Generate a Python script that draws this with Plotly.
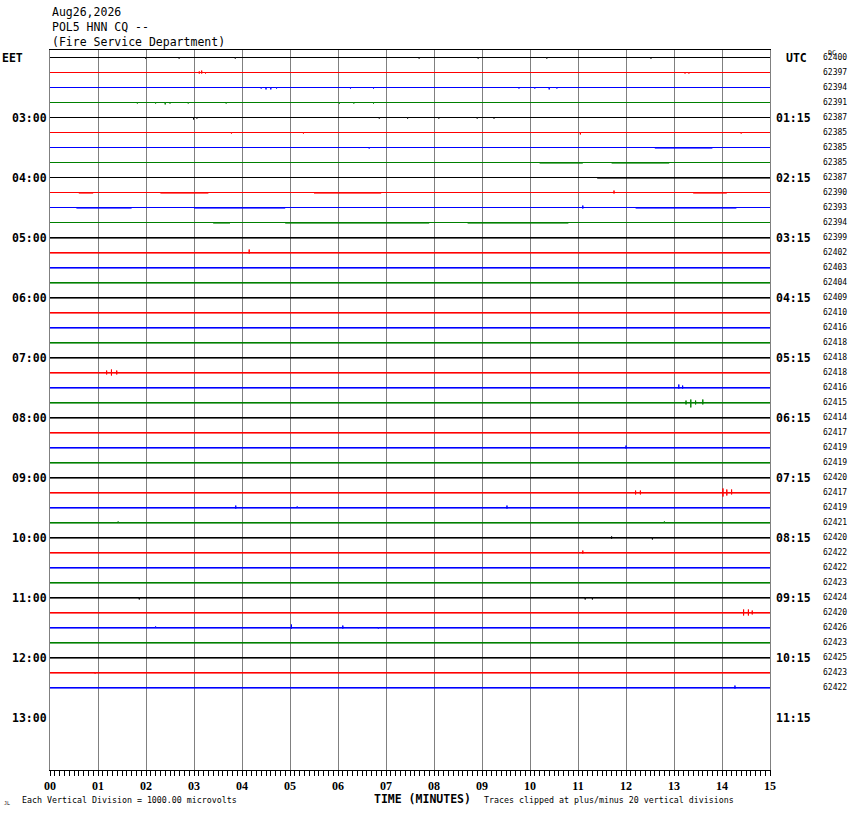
import plotly.graph_objects as go

# ---------------- data ----------------
header_lines = ["Aug26,2026", "POL5 HNN CQ --", "(Fire Service Department)"]
left_hours = ["03:00", "04:00", "05:00", "06:00", "07:00", "08:00", "09:00",
              "10:00", "11:00", "12:00", "13:00"]
right_hours = ["01:15", "02:15", "03:15", "04:15", "05:15", "06:15", "07:15",
               "08:15", "09:15", "10:15", "11:15"]
hour_rows = [4, 8, 12, 16, 20, 24, 28, 32, 36, 40, 44]
minute_labels = ["00", "01", "02", "03", "04", "05", "06", "07", "08", "09",
                 "10", "11", "12", "13", "14", "15"]
dc_values = [62400, 62397, 62394, 62391, 62387, 62385, 62385, 62385,
             62387, 62390, 62393, 62394, 62399, 62402, 62403, 62404,
             62409, 62410, 62416, 62418, 62418, 62418, 62416, 62415,
             62414, 62417, 62419, 62419, 62420, 62417, 62419, 62421,
             62420, 62422, 62422, 62423, 62424, 62420, 62426, 62423,
             62425, 62423, 62422]
trace_colors = ["#000000", "#ff0000", "#0000ff", "#008000"]
total_rows = 48
minutes_per_row = 15

# notable spikes: row, minute, upward amplitude (uV), downward amplitude (uV)
spike_rows = [0, 0, 0, 0, 0, 0, 0,
              1, 1, 1, 1, 1,
              2, 2, 2, 2, 2, 2, 2, 2, 2, 2,
              3, 3, 3, 3, 3, 3, 3, 3, 3,
              4, 4, 4, 4, 4, 4, 4,
              5, 5, 5, 5,
              6, 9, 10,
              13, 21, 21, 21, 22, 22, 23, 23, 23, 23,
              26, 29, 29, 29, 29, 29,
              30, 30, 30, 31, 31, 32, 32, 33,
              36, 36, 36, 37, 37, 37,
              38, 38, 38, 38, 41, 42]
spike_minutes = [1.99, 2.69, 3.86, 7.69, 8.92, 10.35, 12.52,
                 3.11, 3.16, 3.24, 13.23, 13.31,
                 4.40, 4.50, 4.60, 4.72, 6.26, 6.74, 9.77, 10.10, 10.40, 10.56,
                 1.82, 2.20, 2.40, 2.50, 2.88, 3.67, 6.03, 6.33, 6.74,
                 2.99, 3.06, 6.86, 7.45, 8.10, 8.90, 9.25,
                 3.78, 5.28, 11.05, 14.40,
                 6.65, 11.75, 11.10,
                 4.15, 1.18, 1.28, 1.39, 13.10, 13.18, 13.25, 13.35, 13.45, 13.60,
                 12.00, 12.20, 12.30, 14.02, 14.10, 14.20,
                 3.87, 5.15, 9.52, 1.42, 12.80, 12.55, 11.70, 11.10,
                 1.86, 11.15, 11.30, 14.45, 14.55, 14.63,
                 2.20, 5.03, 6.10, 6.84, 0.94, 14.27]
spike_up = [0, 0, 0, 0, 0, 0, 0,
            70, 130, 0, 0, 0,
            0, 0, 0, 0, 0, 0, 0, 0, 0, 0,
            0, 0, 0, 0, 0, 0, 0, 0, 0,
            0, 0, 0, 0, 0, 0, 0,
            0, 0, 0, 0,
            0, 130, 130,
            200, 130, 200, 130, 200, 130, 130, 200, 130, 200,
            130, 130, 130, 270, 200, 200,
            130, 70, 130, 70, 70, 0, 70, 130,
            0, 0, 0, 200, 200, 130,
            70, 200, 130, 0, 0, 130]
spike_down = [70, 70, 70, 70, 70, 70, 70,
              70, 70, 70, 70, 70,
              70, 130, 130, 70, 70, 70, 70, 70, 130, 70,
              70, 70, 130, 70, 70, 70, 70, 70, 70,
              130, 70, 70, 70, 70, 70, 70,
              70, 70, 130, 70,
              70, 70, 70,
              70, 130, 200, 130, 70, 70, 130, 330, 130, 130,
              70, 130, 130, 270, 200, 130,
              70, 0, 70, 0, 0, 130, 70, 70,
              130, 130, 130, 200, 200, 130,
              0, 70, 70, 70, 70, 70]

# fuzzy (noisy) stretches of trace: row, start minute, end minute
fuzz_rows = [6, 7, 7, 8, 9, 9, 9, 9, 10, 10, 10, 11, 11, 11] + list(range(12, 43))
fuzz_start = [12.6, 10.2, 11.7, 11.4, 0.6, 2.3, 5.5, 13.4, 0.55, 3.0, 12.2, 3.4, 4.9, 8.7] + [0.0] * 31
fuzz_end = [13.8, 11.1, 12.9, 15.0, 0.9, 3.3, 6.9, 14.1, 1.7, 4.9, 14.3, 3.75, 7.9, 10.8] + [15.0] * 31

UV_PER_ROW = 1000.0

fig = go.Figure()

n_rows = len(dc_values)
for r in range(n_rows):
    base = r + 0.5
    color = trace_colors[r % 4]
    idx = [i for i, rr in enumerate(spike_rows) if rr == r]
    idx.sort(key=lambda i: spike_minutes[i])
    xs = [0.0]
    ys = [base]
    for i in idx:
        m = spike_minutes[i]
        xs += [m, m, m, m]
        ys += [base, base - spike_up[i] / UV_PER_ROW, base + spike_down[i] / UV_PER_ROW, base]
    xs.append(float(minutes_per_row))
    ys.append(base)
    fig.add_trace(go.Scatter(x=xs, y=ys, mode="lines",
                             line=dict(color=color, width=1),
                             hoverinfo="skip", showlegend=False))
    # fuzz
    fx, fy = [], []
    for i, rr in enumerate(fuzz_rows):
        if rr == r:
            fx += [fuzz_start[i], fuzz_end[i], None]
            fy += [base + 1 / 15, base + 1 / 15, None]
    if fx:
        fig.add_trace(go.Scatter(x=fx, y=fy, mode="lines",
                                 line=dict(color=color, width=1),
                                 opacity=0.6, hoverinfo="skip", showlegend=False))

# invisible trace for right axis
fig.add_trace(go.Scatter(x=[0], y=[0], yaxis="y2", mode="markers",
                         marker=dict(opacity=0), hoverinfo="skip", showlegend=False))

mono = "DejaVu Sans Mono"
ann = []
hdr_y = [12, 27, 42]
for t, py in zip(header_lines, hdr_y):
    ann.append(dict(text=t, xref="paper", yref="paper", x=0, y=(770 - py) / 720,
                    xanchor="left", yanchor="middle", showarrow=False,
                    font=dict(family=mono, size=11.5, color="black")))
ann.append(dict(text="<b>EET</b>", xref="paper", yref="y", x=-50 / 720, y=0.5,
                xanchor="left", yanchor="middle", showarrow=False,
                font=dict(family=mono, size=11.5, color="black")))
ann.append(dict(text="<b>UTC</b>", xref="paper", yref="y", x=(784 - 50) / 720, y=0.5,
                xanchor="left", yanchor="middle", showarrow=False,
                font=dict(family=mono, size=11.5, color="black")))
for lab, rlab, rr in zip(left_hours, right_hours, hour_rows):
    ann.append(dict(text="<b>%s</b>" % lab, xref="paper", yref="y", x=0, xshift=-1,
                    y=rr + 0.5, xanchor="right", yanchor="middle", showarrow=False,
                    font=dict(family=mono, size=11.5, color="black")))
    ann.append(dict(text="<b>%s</b>" % rlab, xref="paper", yref="y", x=1, xshift=4,
                    y=rr + 0.5, xanchor="left", yanchor="middle", showarrow=False,
                    font=dict(family=mono, size=11.5, color="black")))
for r, v in enumerate(dc_values):
    ann.append(dict(text=str(v), xref="paper", yref="y", x=(821 - 50) / 720,
                    y=r + 0.5, xanchor="left", yanchor="middle", showarrow=False,
                    font=dict(family=mono, size=8, color="black")))
ann.append(dict(text="DC", xref="paper", yref="paper", x=(826 - 50) / 720,
                y=(770 - 53) / 720, xanchor="left", yanchor="middle", showarrow=False,
                font=dict(family=mono, size=6.5, color="black")))
ann.append(dict(text="<b>TIME (MINUTES)</b>", xref="paper", yref="paper",
                x=(422 - 50) / 720, y=-(799 - 770) / 720, xanchor="center",
                yanchor="middle", showarrow=False,
                font=dict(family=mono, size=11.5, color="black")))
ann.append(dict(text="Each Vertical Division = 1000.00 microvolts", xref="paper",
                yref="paper", x=(20 - 50) / 720, y=-(800 - 770) / 720,
                xanchor="left", yanchor="middle", showarrow=False,
                font=dict(family=mono, size=8.3, color="black")))
ann.append(dict(text="Traces clipped at plus/minus 20 vertical divisions", xref="paper",
                yref="paper", x=(482 - 50) / 720, y=-(800 - 770) / 720,
                xanchor="left", yanchor="middle", showarrow=False,
                font=dict(family=mono, size=8.3, color="black")))
ann.append(dict(text="JL", xref="paper", yref="paper", x=(2 - 50) / 720,
                y=-(803 - 770) / 720, xanchor="left", yanchor="middle", showarrow=False,
                font=dict(family=mono, size=5, color="black")))

fig.update_layout(
    width=850, height=814,
    margin=dict(l=50, r=80, t=50, b=44),
    paper_bgcolor="white", plot_bgcolor="white",
    annotations=ann,
    xaxis=dict(range=[0, minutes_per_row], showgrid=True, gridcolor="#808080",
               gridwidth=1, tickvals=list(range(16)), ticktext=minute_labels,
               ticks="outside", ticklen=5, tickcolor="black", tickwidth=1,
               showline=True, linecolor="black", linewidth=1, mirror=True,
               zeroline=False, fixedrange=True,
               tickfont=dict(family="Liberation Serif", size=12, color="black",
                             weight="bold"),
               minor=dict(dtick=0.1, ticks="outside", ticklen=5, tickcolor="black",
                          showgrid=False)),
    yaxis=dict(range=[total_rows, 0], showgrid=False, zeroline=False,
               showticklabels=False, ticks="", showline=True, linecolor="#808080",
               linewidth=1, mirror=True, fixedrange=True),
    yaxis2=dict(range=[total_rows, 0], overlaying="y", side="right", showgrid=False,
                zeroline=False, showticklabels=False, ticks="", showline=False,
                fixedrange=True),
)

fig.write_html("out.html", config={"displayModeBar": False},
               post_script="document.body.style.margin='0px';"
                           "document.body.style.overflow='hidden';")
